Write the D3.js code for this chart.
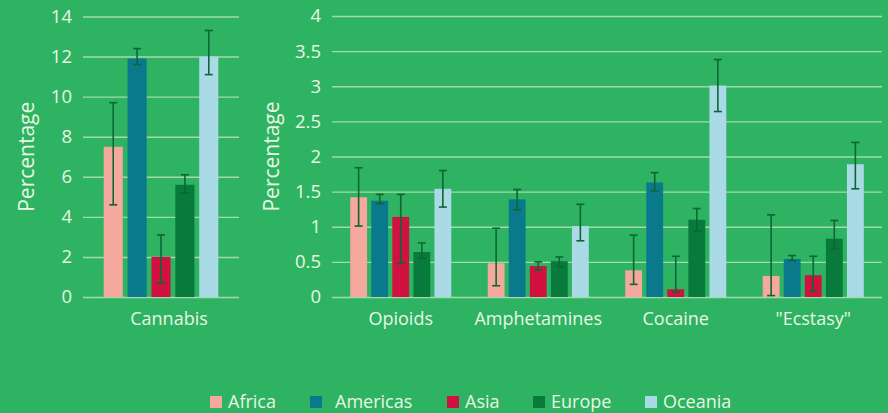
<!DOCTYPE html>
<html>
<head>
<meta charset="utf-8">
<script src="https://cdn.jsdelivr.net/npm/d3@7"></script>
<style>
  html, body { margin: 0; padding: 0; background: #2eb362; }
  svg { display: block; }
  text { font-family: "Open Sans", "Noto Sans", sans-serif; fill: #e9f6e4; }
</style>
</head>
<body>
<svg id="chart" width="888" height="413"></svg>
<script>
// Regions shown in every group (legend order)
const regions = ["Africa", "Americas", "Asia", "Europe", "Oceania"];
const regionColors = ["#f5a89c", "#0b798c", "#d1113f", "#087a3b", "#a9dae6"];

// Cannabis panel (own scale)
const cannabisCategories = ["Cannabis"];
const cannabisValues = [[7.5, 11.9, 2.0, 5.6, 12.0]];
const cannabisLow    = [[4.6, 11.6, 0.7, 5.2, 11.1]];
const cannabisHigh   = [[9.7, 12.4, 3.1, 6.1, 13.3]];
const cannabisTicks  = [0, 2, 4, 6, 8, 10, 12, 14];

// Other drugs panel
const drugCategories = ["Opioids", "Amphetamines", "Cocaine", "\"Ecstasy\""];
const drugValues = [
  [1.42, 1.37, 1.14, 0.64, 1.54],
  [0.48, 1.39, 0.44, 0.51, 1.01],
  [0.38, 1.63, 0.11, 1.10, 3.01],
  [0.30, 0.54, 0.31, 0.83, 1.89]
];
const drugLow = [
  [1.01, 1.33, 0.48, 0.55, 1.28],
  [0.16, 1.24, 0.38, 0.43, 0.80],
  [0.18, 1.51, 0.07, 0.94, 2.64],
  [0.02, 0.52, 0.08, 0.69, 1.54]
];
const drugHigh = [
  [1.84, 1.46, 1.46, 0.77, 1.80],
  [0.98, 1.53, 0.50, 0.57, 1.32],
  [0.88, 1.77, 0.58, 1.26, 3.38],
  [1.17, 0.59, 0.58, 1.09, 2.20]
];
const drugTicks = [0, 0.5, 1, 1.5, 2, 2.5, 3, 3.5, 4];

const svg = d3.select("#chart");
const color = d3.scaleOrdinal().domain(regions).range(regionColors);

function panel(opts) {
  const { categories, values, low, high, ticks, x0, x1, yTop, yBottom, yMax, labelX } = opts;
  const g = svg.append("g");

  const x = d3.scaleBand().domain(categories).range([x0, x1])
    .paddingInner(0.265).paddingOuter(0.1325);
  const xs = d3.scaleBand().domain(regions).range([0, x.bandwidth()])
    .paddingInner(0.2).paddingOuter(0);
  const y = d3.scaleLinear().domain([0, yMax]).range([yBottom, yTop]);

  // gridlines and value labels
  const axis = d3.axisLeft(y).tickValues(ticks)
    .tickSize(-(x1 - x0)).tickPadding(11)
    .tickFormat(d => String(d));
  const ag = g.append("g").attr("transform", `translate(${x0},0)`).call(axis);
  ag.select(".domain").remove();
  ag.selectAll(".tick line").attr("stroke", "#a3d9ad").attr("stroke-width", 1.4);
  ag.selectAll(".tick text").attr("font-size", 18.5).attr("fill", "#e9f6e4")
    .style("font-family", "\"Open Sans\", sans-serif");

  // axis title
  g.append("text")
    .attr("transform", `translate(${labelX},${(yTop + yBottom) / 2}) rotate(-90)`)
    .attr("text-anchor", "middle").attr("dominant-baseline", "middle")
    .attr("font-size", 21).text("Percentage");

  // bars and error bars per category
  categories.forEach((cat, ci) => {
    const cg = g.append("g").attr("transform", `translate(${x(cat)},0)`);
    const rows = regions.map((r, ri) => ({
      r, v: values[ci][ri], lo: low[ci][ri], hi: high[ci][ri]
    }));
    cg.selectAll("rect").data(rows).join("rect")
      .attr("x", d => xs(d.r)).attr("width", xs.bandwidth())
      .attr("y", d => y(d.v)).attr("height", d => y(0) - y(d.v))
      .attr("fill", d => color(d.r));

    const eb = cg.selectAll("g.err").data(rows).join("g").attr("class", "err")
      .attr("stroke", "#0d6636").attr("stroke-width", 1.6);
    const cx = d => xs(d.r) + xs.bandwidth() / 2;
    eb.append("line").attr("x1", cx).attr("x2", cx)
      .attr("y1", d => y(d.lo)).attr("y2", d => y(d.hi));
    eb.append("line").attr("x1", d => cx(d) - 4).attr("x2", d => cx(d) + 4)
      .attr("y1", d => y(d.hi)).attr("y2", d => y(d.hi));
    eb.append("line").attr("x1", d => cx(d) - 4).attr("x2", d => cx(d) + 4)
      .attr("y1", d => y(d.lo)).attr("y2", d => y(d.lo));

    g.append("text")
      .attr("x", x(cat) + x.bandwidth() / 2 + (opts.labelShift || 0))
      .attr("y", 325).attr("text-anchor", "middle")
      .attr("font-size", 18).text(cat);
  });
}

panel({
  categories: cannabisCategories, values: cannabisValues,
  low: cannabisLow, high: cannabisHigh, ticks: cannabisTicks,
  x0: 83, x1: 239, yTop: 16.5, yBottom: 297, yMax: 14, labelX: 28, labelShift: 8
});

panel({
  categories: drugCategories, values: drugValues,
  low: drugLow, high: drugHigh, ticks: drugTicks,
  x0: 332, x1: 882, yTop: 16, yBottom: 297, yMax: 4, labelX: 273
});

// legend
const legendX = [210, 310, 447, 533, 645];
const lg = svg.append("g");
regions.forEach((r, i) => {
  lg.append("rect").attr("x", legendX[i]).attr("y", 396)
    .attr("width", 12).attr("height", 12).attr("fill", color(r));
  lg.append("text").attr("x", legendX[i] + (i === 1 ? 25 : 18)).attr("y", 408)
    .attr("font-size", 18).text(r);
});
</script>
</body>
</html>
